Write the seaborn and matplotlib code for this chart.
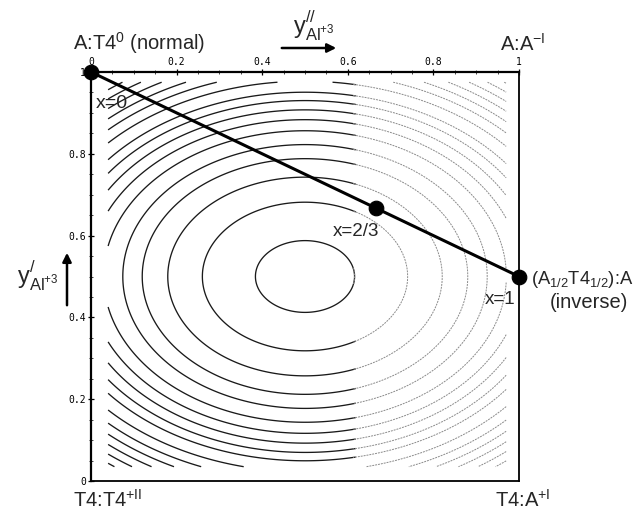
import numpy as np
import matplotlib
matplotlib.use("Agg")
import matplotlib.pyplot as plt
import seaborn as sns

# ---- data ----
path_x = [0.0, 2/3, 1.0]
path_y = [1.0, 2/3, 0.5]
point_labels = ["x=0", "x=2/3", "x=1"]

# squared distances (in y units) of contour crossings along x = 0.5
contour_levels = [0.0077, 0.033, 0.059, 0.083, 0.104, 0.127, 0.147, 0.166,
                  0.185, 0.203, 0.228, 0.25, 0.27, 0.29, 0.31, 0.33, 0.35]
ellipse_center = (0.5, 0.5)
ellipse_aspect = 1.32   # x half-axis / y half-axis

tick_values = [0, 0.2, 0.4, 0.6, 0.8, 1]
tick_labels = ["0", "0.2", "0.4", "0.6", "0.8", "1"]

corner_labels = {
    "tl": r"A:T4$^{0}$ (normal)",
    "tr": r"A:A$^{\mathsf{-I}}$",
    "bl": r"T4:T4$^{\mathsf{+II}}$",
    "br": r"T4:A$^{\mathsf{+I}}$",
}

sns.set_style("white")
plt.rcParams["font.family"] = ["Liberation Sans", "DejaVu Sans"]
plt.rcParams["mathtext.fontset"] = "custom"
plt.rcParams["mathtext.sf"] = "Liberation Sans"
plt.rcParams["mathtext.rm"] = "Liberation Sans"

W, H = 638, 517
fig = plt.figure(figsize=(W / 100, H / 100), dpi=100)
ax = fig.add_axes([91 / W, 1 - 481 / H, (519 - 91) / W, (481 - 72) / H])

def fx(px):
    return px / W

def fy(py):
    return 1 - py / H

# contour field
gx = np.linspace(0.04, 0.97, 300)
gy = np.linspace(0.035, 0.975, 300)
X, Y = np.meshgrid(gx, gy)
Z = ((X - ellipse_center[0]) / ellipse_aspect) ** 2 + (Y - ellipse_center[1]) ** 2
Z_left = np.ma.masked_where(X > 0.62, Z)
Z_right = np.ma.masked_where(X < 0.61, Z)
ax.contour(X, Y, Z_left, levels=contour_levels, colors="#1a1a1a", linewidths=0.95)
cr = ax.contour(X, Y, Z_right, levels=contour_levels, colors="#8a8a8a", linewidths=0.7)
cr.set_linestyle((0, (2, 1)))

# path line and points
sns.lineplot(x=path_x, y=path_y, color="black", linewidth=2.2, ax=ax, sort=False)
sns.scatterplot(x=path_x, y=path_y, color="black", s=110, edgecolor="black",
                ax=ax, zorder=5)
for art in ax.lines + ax.collections:
    art.set_clip_on(False)

ax.set_xlim(0, 1)
ax.set_ylim(0, 1)

# ticks
ax.xaxis.tick_top()
ax.set_xticks(tick_values)
ax.set_xticklabels(tick_labels)
ax.set_yticks(tick_values)
ax.set_yticklabels(tick_labels)
ax.set_xticks(np.arange(0, 1.001, 0.05), minor=True)
ax.set_yticks(np.arange(0, 1.001, 0.05), minor=True)
ax.tick_params(axis="both", which="major", direction="inout", length=5, width=0.9,
               labelsize=7, pad=1, colors="black")
ax.tick_params(axis="both", which="minor", direction="inout", length=2.5, width=0.6)
ax.tick_params(top=True, bottom=False, left=True, right=False, which="both")
for lab in ax.get_xticklabels() + ax.get_yticklabels():
    lab.set_family("DejaVu Sans Mono")
for side, lw in (("top", 1.6), ("left", 1.6), ("right", 1.3), ("bottom", 1.3)):
    ax.spines[side].set_visible(True)
    ax.spines[side].set_color("black")
    ax.spines[side].set_linewidth(lw)

# point labels
fig.text(fx(96), fy(103), point_labels[0], fontsize=14, ha="left", va="center")
fig.text(fx(356), fy(232), point_labels[1], fontsize=13.5, ha="center", va="center")
fig.text(fx(500), fy(300), point_labels[2], fontsize=13.5, ha="center", va="center")

# corner labels
fig.text(fx(73), fy(43), corner_labels["tl"], fontsize=14.5, ha="left", va="center")
fig.text(fx(500), fy(44), corner_labels["tr"], fontsize=14.5, ha="left", va="center")
fig.text(fx(73), fy(500), corner_labels["bl"], fontsize=14.5, ha="left", va="center")
fig.text(fx(495), fy(500), corner_labels["br"], fontsize=14.5, ha="left", va="center")
fig.text(fx(531), fy(280), r"(A$_{1/2}$T4$_{1/2}$):A", fontsize=13.2, ha="left", va="center")
fig.text(fx(589), fy(303), "(inverse)", fontsize=14.5, ha="center", va="center")

# axis labels with arrows
fig.text(fx(314), fy(26), r"$\mathsf{y}^{//}_{\mathsf{Al}^{+3}}$", fontsize=17,
         ha="center", va="center")
fig.patches.append(matplotlib.patches.FancyArrowPatch(
    (fx(279), fy(48)), (fx(339), fy(48)), transform=fig.transFigure,
    arrowstyle="-|>", mutation_scale=13, color="black", linewidth=1.8))
fig.text(fx(38), fy(276), r"$\mathsf{y}^{/}_{\mathsf{Al}^{+3}}$", fontsize=17,
         ha="center", va="center")
fig.patches.append(matplotlib.patches.FancyArrowPatch(
    (fx(67), fy(308)), (fx(67), fy(250)), transform=fig.transFigure,
    arrowstyle="-|>", mutation_scale=13, color="black", linewidth=1.8))

fig.savefig("out.png", dpi=100, facecolor="white")
